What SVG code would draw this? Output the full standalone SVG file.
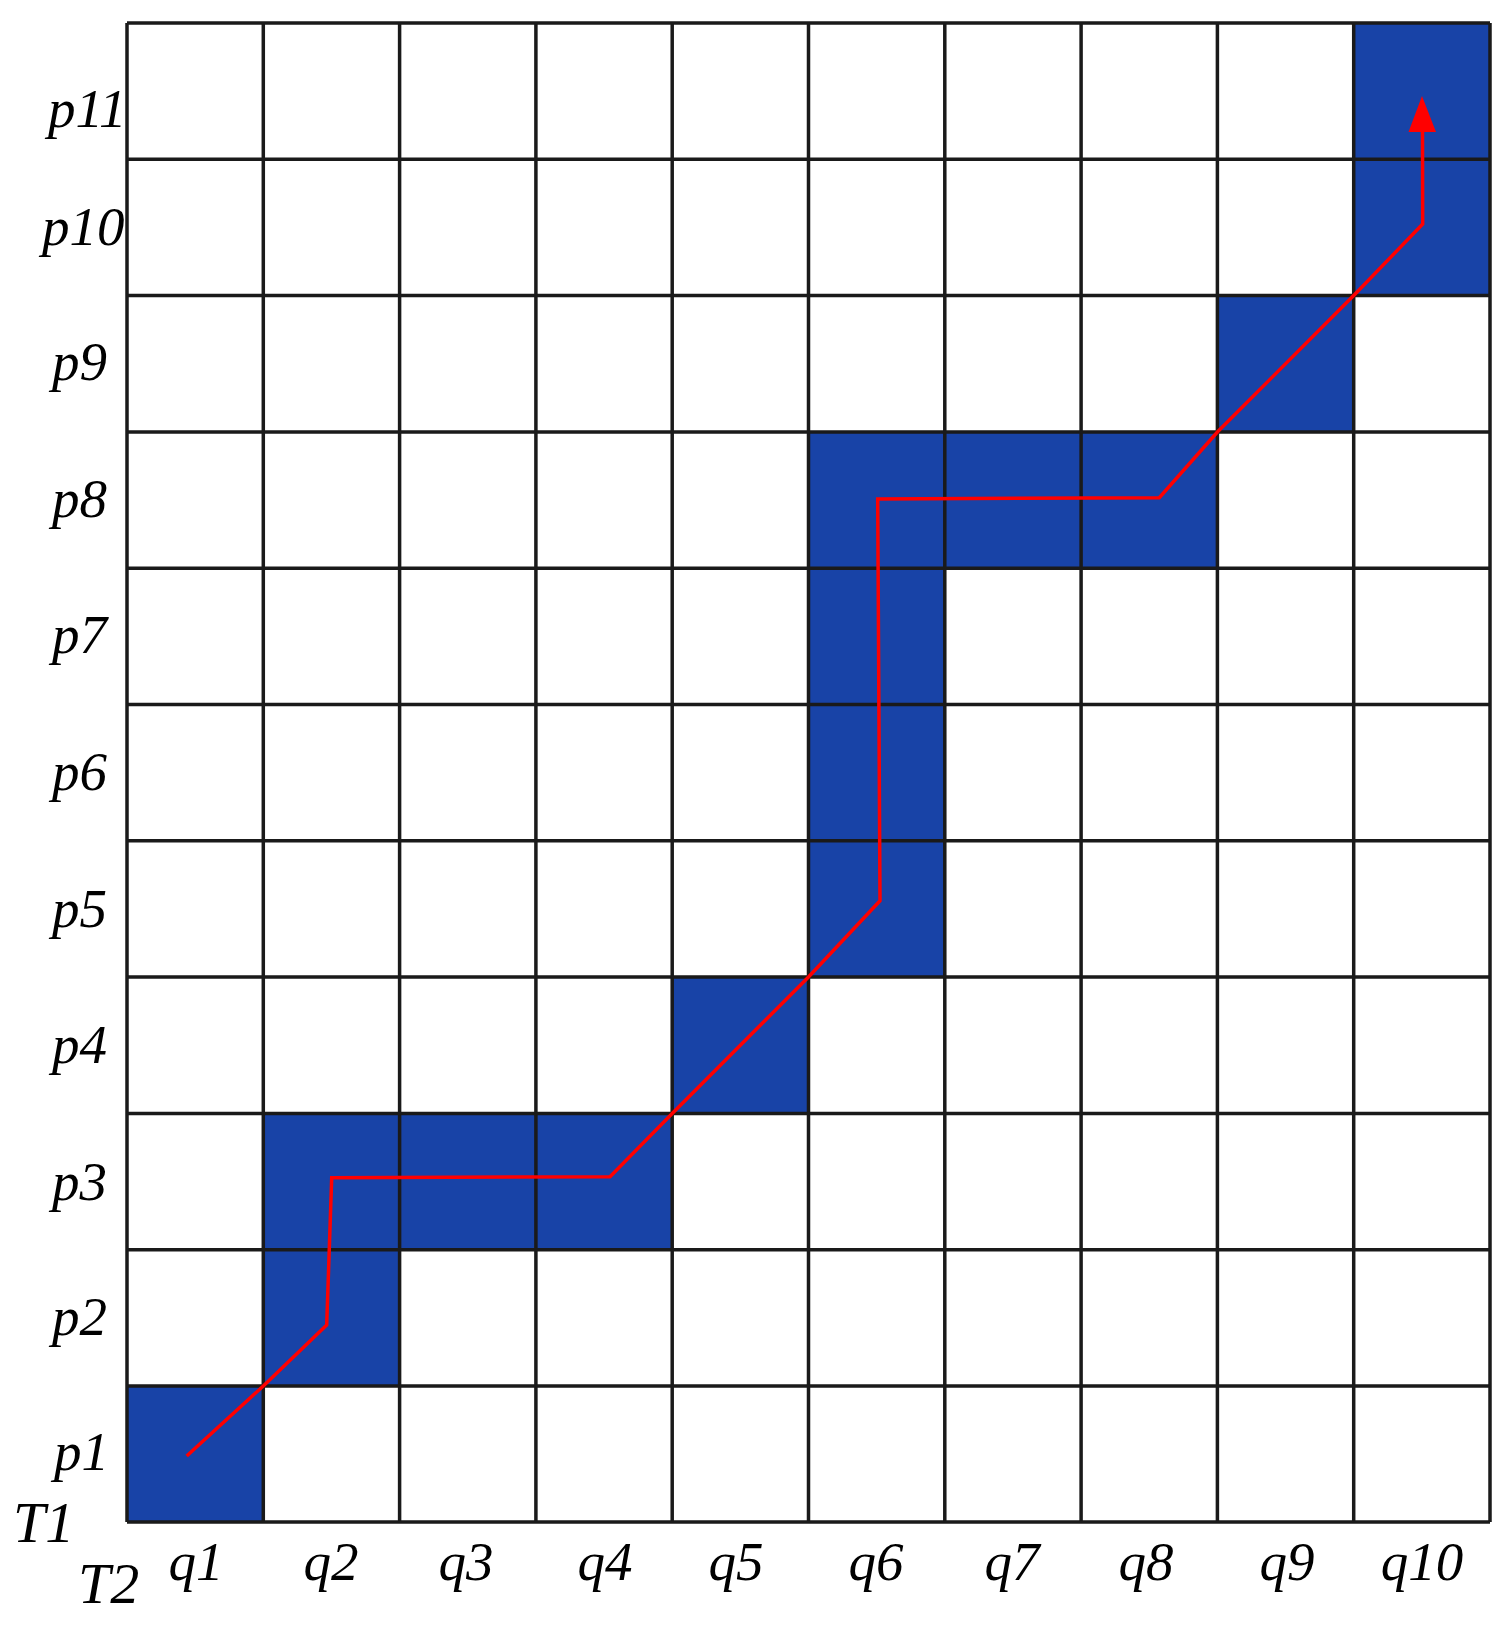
<svg xmlns="http://www.w3.org/2000/svg" width="1509" height="1634" viewBox="0 0 1509 1634">
<style>
.lbl{font-family:"Liberation Serif","Times New Roman",serif;font-style:italic;font-size:55px;fill:#000}
.ax{font-family:"Liberation Serif","Times New Roman",serif;font-style:italic;font-size:58px;fill:#000}
.blue{fill:#1843a7}
.grid{stroke:#1a1a1a;stroke-width:3.5;fill:none}
.path{stroke:#ff0000;stroke-width:3.5;fill:none;stroke-linejoin:miter}
</style>
<rect width="1509" height="1634" fill="#fff"/>
<g id="cells">
<rect class="blue" x="127" y="1385.6" width="136.3" height="136.3"/>
<rect class="blue" x="263.3" y="1249.3" width="136.3" height="136.3"/>
<rect class="blue" x="263.3" y="1113" width="408.9" height="136.3"/>
<rect class="blue" x="672.2" y="976.7" width="136.3" height="136.3"/>
<rect class="blue" x="808.5" y="431.5" width="136.3" height="545.2"/>
<rect class="blue" x="808.5" y="431.5" width="408.9" height="136.3"/>
<rect class="blue" x="1217.4" y="295.2" width="136.3" height="136.3"/>
<rect class="blue" x="1353.7" y="23" width="136.3" height="272.6"/>
</g>
<g id="grid" class="grid">
<path d="M127,23V1522M263.3,23V1522M399.6,23V1522M535.9,23V1522M672.2,23V1522M808.5,23V1522M944.8,23V1522M1081.1,23V1522M1217.4,23V1522M1353.7,23V1522M1490,23V1522"/>
<path d="M127,23H1490M127,159.3H1490M127,295.6H1490M127,431.9H1490M127,568.2H1490M127,704.5H1490M127,840.8H1490M127,977.1H1490M127,1113.4H1490M127,1249.7H1490M127,1386H1490M127,1522H1490"/>
</g>
<g id="connectors">
<path class="path" d="M186.7,1456 L263.3,1386 L326.7,1325 L331.7,1177.7 L610,1176.7 L672.2,1113.4 L808.5,977 L880,900.7 L877.7,499 L1159.3,497.7 L1217.4,432 L1353.7,295.6 L1422.7,224 L1422.5,128"/>
<polygon fill="#ff0000" points="1422,96 1436,132 1408.5,132"/>
</g>
<g id="row-labels">
<text class="lbl" x="48" y="127">p11</text>
<text class="lbl" x="42" y="245">p10</text>
<text class="lbl" x="52" y="380">p9</text>
<text class="lbl" x="52" y="517">p8</text>
<text class="lbl" x="52" y="653">p7</text>
<text class="lbl" x="52" y="790">p6</text>
<text class="lbl" x="52" y="927">p5</text>
<text class="lbl" x="52" y="1063">p4</text>
<text class="lbl" x="52" y="1200">p3</text>
<text class="lbl" x="52" y="1335">p2</text>
<text class="lbl" x="54" y="1470">p1</text>
</g>
<g id="col-labels">
<text class="lbl" x="196" y="1580" text-anchor="middle">q1</text>
<text class="lbl" x="331" y="1580" text-anchor="middle">q2</text>
<text class="lbl" x="466" y="1580" text-anchor="middle">q3</text>
<text class="lbl" x="605" y="1580" text-anchor="middle">q4</text>
<text class="lbl" x="736" y="1580" text-anchor="middle">q5</text>
<text class="lbl" x="876" y="1580" text-anchor="middle">q6</text>
<text class="lbl" x="1012" y="1580" text-anchor="middle">q7</text>
<text class="lbl" x="1146" y="1580" text-anchor="middle">q8</text>
<text class="lbl" x="1287" y="1580" text-anchor="middle">q9</text>
<text class="lbl" x="1422" y="1580" text-anchor="middle">q10</text>
</g>
<g id="axis-labels">
<text class="ax" x="13" y="1542">T1</text>
<text class="ax" x="78" y="1603">T2</text>
</g>
</svg>
